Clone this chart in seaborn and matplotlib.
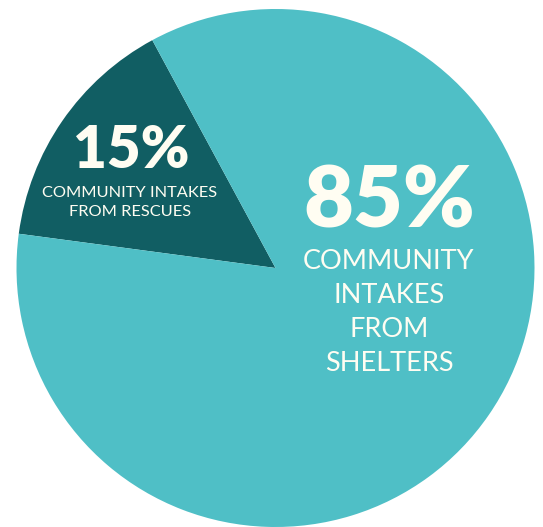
import matplotlib
matplotlib.use("Agg")
import matplotlib.pyplot as plt
import seaborn as sns

categories = ["Community intakes from rescues", "Community intakes from shelters"]
values = [15, 85]
pct_labels = ["15%", "85%"]
desc_rescues = ["COMMUNITY INTAKES", "FROM RESCUES"]
desc_shelters = ["COMMUNITY", "INTAKES", "FROM", "SHELTERS"]
colors = ["#115E63", "#4FBFC6"]

sns.set_theme(style="white")
plt.rcParams['font.family'] = ['Lato', 'DejaVu Sans']

W, H = 543, 527
fig = plt.figure(figsize=(W / 100, H / 100), dpi=100)
cx, cy, r = 275.5, 268.0, 259.0
ax = fig.add_axes([(cx - r) / W, (H - cy - r) / H, 2 * r / W, 2 * r / H])
ax.pie(values, colors=colors, startangle=118.4, counterclock=True, radius=1.0,
       wedgeprops=dict(linewidth=0))
ax.set_xlim(-1, 1)
ax.set_ylim(-1, 1)
ax.set_aspect('auto')
ax.axis('off')

txt = "#FFFDF2"

def put(x, y, s, size, weight="normal"):
    fig.text(x / W, 1 - y / H, s, ha="center", va="center", color=txt,
             fontsize=size, fontweight=weight)

put(131, 151, pct_labels[0], 42, "heavy")
put(130, 193, desc_rescues[0], 11.8)
put(130, 212, desc_rescues[1], 11.8)

put(389, 203, pct_labels[1], 62, "heavy")
for i, s in enumerate(desc_shelters):
    put(389, 262 + 33.7 * i, s, 19.5)

fig.savefig("out.png", dpi=100, facecolor="white")
